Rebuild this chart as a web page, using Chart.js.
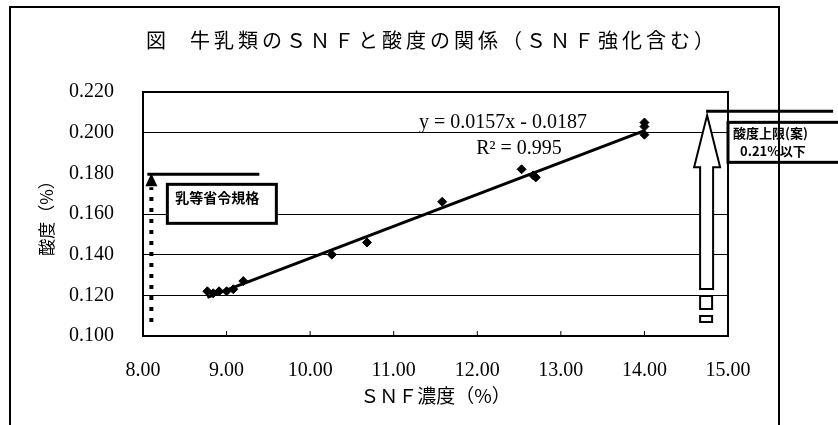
<!DOCTYPE html>
<html lang="ja">
<head>
<meta charset="utf-8">
<title>牛乳類のSNFと酸度の関係</title>
<script src="https://cdn.jsdelivr.net/npm/chart.js@4.4.1/dist/chart.umd.min.js"></script>
<style>
  html, body { margin: 0; padding: 0; background: #fff; }
  canvas { display: block; }
</style>
</head>
<body>
<canvas id="acidChart" width="838" height="425"></canvas>
<script>
// SNF濃度 (%) と 酸度 (%)
const snfValues = [8.77, 8.84, 8.91, 9.00, 9.08, 9.20, 10.26, 10.68, 11.58, 12.53, 12.67, 12.70, 14.00, 14.00, 14.00];
const acidValues = [0.122, 0.121, 0.122, 0.122, 0.123, 0.127, 0.140, 0.146, 0.166, 0.182, 0.179, 0.178, 0.205, 0.203, 0.199];

// ends of the trend line y = 0.0157x - 0.0187
const trendX = [8.77, 14.00];
const trendY = [0.119, 0.201];

const xTicks = [8, 9, 10, 11, 12, 13, 14, 15];
const xTickLabels = ['8.00', '9.00', '10.00', '11.00', '12.00', '13.00', '14.00', '15.00'];
const yTicks = [0.10, 0.12, 0.14, 0.16, 0.18, 0.20, 0.22];
const yTickLabels = ['0.100', '0.120', '0.140', '0.160', '0.180', '0.200', '0.220'];

const stdLimit = 0.18;       // 乳等省令規格
const proposedLimit = 0.21;  // 酸度上限(案)

const serif = "'Liberation Serif', 'Noto Sans CJK JP', serif";
const jp = "'Noto Sans CJK JP', sans-serif";

// title, frames, equation and the two arrow annotations
const decorations = {
    id: 'decorations',
    afterDraw(chart) {
        const { ctx, chartArea: a, scales: { x, y } } = chart;
        ctx.save();
        ctx.strokeStyle = '#000';
        ctx.fillStyle = '#000';

        // plot frame
        ctx.lineWidth = 2;
        ctx.strokeRect(a.left, a.top, a.right - a.left, a.bottom - a.top);

        // small inward ticks on the x axis
        ctx.lineWidth = 1;
        xTicks.forEach(v => {
            const px = x.getPixelForValue(v);
            ctx.beginPath();
            ctx.moveTo(px, a.bottom);
            ctx.lineTo(px, a.bottom - 5);
            ctx.stroke();
        });

        // title
        ctx.font = '20px ' + jp;
        ctx.textBaseline = 'middle';
        ctx.textAlign = 'left';
        ctx.fillText('図', 146, 40);
        ctx.letterSpacing = '4px';
        ctx.fillText('牛乳類のＳＮＦと酸度の関係（ＳＮＦ強化含む）', 190, 40);
        ctx.letterSpacing = '0px';

        // regression text
        ctx.font = '20px ' + serif;
        ctx.textAlign = 'center';
        ctx.fillText('y = 0.0157x - 0.0187', 503, 123);
        ctx.fillText('R² = 0.995', 519, 149);

        // left: 乳等省令規格 (dotted arrow up to 0.18)
        const sx = x.getPixelForValue(8.1);
        const sy = y.getPixelForValue(stdLimit);
        ctx.lineWidth = 3;
        ctx.beginPath();
        ctx.moveTo(sx - 4, sy + 1);
        ctx.lineTo(sx + 108, sy + 1);
        ctx.stroke();
        ctx.lineWidth = 4;
        ctx.setLineDash([4, 7]);
        ctx.beginPath();
        ctx.moveTo(sx, a.bottom - 14);
        ctx.lineTo(sx, sy + 14);
        ctx.stroke();
        ctx.setLineDash([]);
        ctx.beginPath();
        ctx.moveTo(sx, sy);
        ctx.lineTo(sx + 6, sy + 13);
        ctx.lineTo(sx - 6, sy + 13);
        ctx.closePath();
        ctx.fill();
        ctx.lineWidth = 3;
        ctx.fillStyle = '#fff';
        ctx.fillRect(sx + 16, sy + 11, 109, 39);
        ctx.strokeRect(sx + 16, sy + 11, 109, 39);
        ctx.fillStyle = '#000';
        ctx.font = 'bold 14px ' + jp;
        ctx.textAlign = 'left';
        ctx.fillText('乳等省令規格', sx + 24, sy + 24);

        // right: 酸度上限(案) hollow arrow up to 0.21
        const ux = x.getPixelForValue(14.75);
        const uy = y.getPixelForValue(proposedLimit);
        ctx.lineWidth = 3;
        ctx.beginPath();
        ctx.moveTo(ux - 1, uy - 1);
        ctx.lineTo(ux + 126, uy - 1);
        ctx.stroke();
        ctx.lineWidth = 2;
        ctx.fillStyle = '#fff';
        ctx.beginPath();
        ctx.moveTo(ux, uy + 3);
        ctx.lineTo(ux + 13, uy + 55);
        ctx.lineTo(ux + 6, uy + 55);
        ctx.lineTo(ux + 6, a.bottom - 47);
        ctx.lineTo(ux - 7, a.bottom - 47);
        ctx.lineTo(ux - 7, uy + 55);
        ctx.lineTo(ux - 13, uy + 55);
        ctx.closePath();
        ctx.fill();
        ctx.stroke();
        ctx.strokeRect(ux - 7, a.bottom - 40, 12, 13);
        ctx.strokeRect(ux - 7, a.bottom - 20, 12, 6);
        ctx.lineWidth = 3;
        ctx.fillRect(a.right, uy + 10, 130, 40);
        ctx.strokeRect(a.right, uy + 10, 130, 40);
        ctx.fillStyle = '#000';
        ctx.font = 'bold 13px ' + jp;
        ctx.fillText('酸度上限(案)', a.right + 5, uy + 21);
        ctx.fillText('0.21%以下', a.right + 12, uy + 39);

        // outer frame of the figure
        ctx.lineWidth = 2;
        ctx.beginPath();
        ctx.moveTo(10, 425);
        ctx.lineTo(10, 7);
        ctx.lineTo(779, 7);
        ctx.lineTo(779, 425);
        ctx.stroke();

        ctx.restore();
    }
};

Chart.defaults.font.family = serif;
Chart.defaults.color = '#000';

const ctx = document.getElementById('acidChart').getContext('2d');
new Chart(ctx, {
    type: 'scatter',
    data: {
        datasets: [{
            label: '酸度',
            data: snfValues.map((v, i) => ({ x: v, y: acidValues[i] })),
            pointStyle: 'rectRot',
            pointRadius: 4.5,
            backgroundColor: '#000',
            borderColor: '#000'
        }, {
            label: '線形近似',
            data: trendX.map((v, i) => ({ x: v, y: trendY[i] })),
            showLine: true,
            borderColor: '#000',
            borderWidth: 3,
            pointRadius: 0
        }]
    },
    options: {
        responsive: false,
        animation: false,
        devicePixelRatio: 1,
        layout: { padding: { left: 0, right: 110, top: 92, bottom: 0 } },
        scales: {
            x: {
                type: 'linear',
                min: 8,
                max: 15,
                afterBuildTicks: s => { s.ticks = xTicks.map(v => ({ value: v })); },
                afterFit: s => { s.height = 89; },
                ticks: {
                    callback: (v, i) => xTickLabels[i],
                    font: { size: 20 },
                    padding: 23,
                    maxRotation: 0
                },
                grid: { display: false, drawTicks: false },
                border: { display: true, color: '#000', width: 2 },
                title: {
                    display: true,
                    text: 'ＳＮＦ濃度（%）',
                    font: { size: 19, family: jp },
                    padding: { top: 0, bottom: 18 }
                }
            },
            y: {
                min: 0.10,
                max: 0.22,
                afterBuildTicks: s => { s.ticks = yTicks.map(v => ({ value: v })); },
                afterFit: s => { s.width = 143; },
                ticks: {
                    callback: (v, i) => yTickLabels[i],
                    font: { size: 20 },
                    padding: 29
                },
                grid: {
                    drawTicks: false,
                    lineWidth: 1,
                    color: c => Math.abs(c.tick.value - stdLimit) < 1e-9 ? 'rgba(0,0,0,0)' : '#000'
                },
                border: { display: true, color: '#000', width: 2 },
                title: {
                    display: true,
                    text: '酸度（%）',
                    font: { size: 17, family: jp },
                    padding: { top: 36, bottom: 0 }
                }
            }
        },
        plugins: {
            legend: { display: false },
            tooltip: { enabled: false }
        }
    },
    plugins: [decorations]
});
</script>
</body>
</html>
